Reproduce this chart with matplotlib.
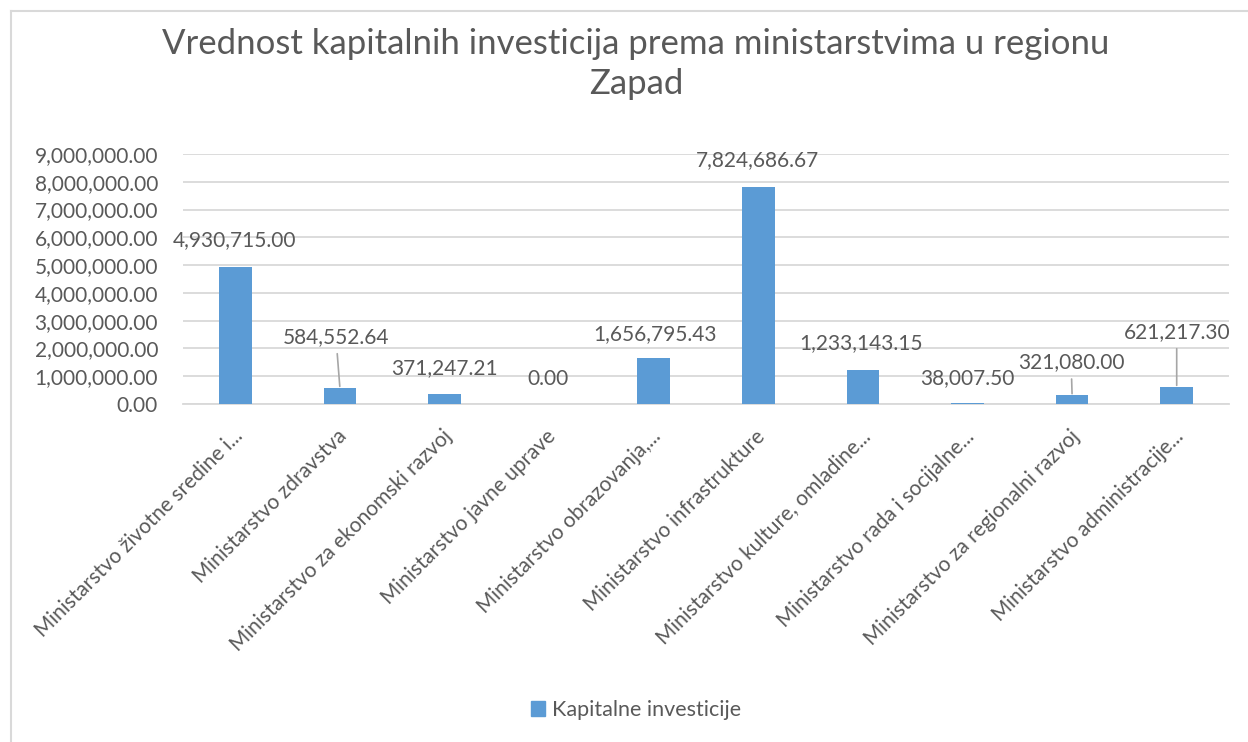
import matplotlib
matplotlib.use("Agg")
import matplotlib.pyplot as plt
from matplotlib.lines import Line2D
from matplotlib.patches import Patch
import matplotlib.transforms as mtransforms
import numpy as np

# ---- data ----
categories = [
    "Ministarstvo životne sredine i...",
    "Ministarstvo zdravstva",
    "Ministarstvo za ekonomski razvoj",
    "Ministarstvo javne uprave",
    "Ministarstvo obrazovanja,...",
    "Ministarstvo infrastrukture",
    "Ministarstvo kulture, omladine...",
    "Ministarstvo rada i socijalne...",
    "Ministarstvo za regionalni razvoj",
    "Ministarstvo administracije...",
]
values = [4930715.00, 584552.64, 371247.21, 0.00, 1656795.43,
          7824686.67, 1233143.15, 38007.50, 321080.00, 621217.30]
series_name = "Kapitalne investicije"
title_text = "Vrednost kapitalnih investicija prema ministarstvima u regionu\nZapad"
y_ticks = [0, 1000000, 2000000, 3000000, 4000000, 5000000,
           6000000, 7000000, 8000000, 9000000]

# ---- styling (label placement in pixels relative to bar top) ----
label_offsets_px = [(-1, 27), (-4, 51), (0, 26), (-1, 25), (1, 24),
                    (-1, 27), (-2, 27), (0, 25), (-1, 33), (0, 55)]
leader = [False, True, False, False, False, False, False, False, True, True]

BAR = "#5B9BD5"
TXT = "#595959"
GRID = "#D9D9D9"
FONT = "Lato"
FS = 15

plt.rcParams["font.family"] = [FONT, "DejaVu Sans"]

W, H = 1248, 742
fig = plt.figure(figsize=(W / 100, H / 100), dpi=100)
fig.patch.set_facecolor("white")

ax = fig.add_axes([183 / W, 1 - 404 / H, (1229 - 183) / W, (404 - 154) / H])

x = np.arange(len(categories))
ax.bar(x, values, width=0.31, color=BAR, zorder=3)

ax.set_xlim(-0.5, len(categories) - 0.5)
ax.set_ylim(0, 9000000)
ax.set_yticks(y_ticks)
ax.set_yticklabels([f"{v:,.2f}" for v in y_ticks], fontsize=FS, color=TXT)
ax.yaxis.grid(True, color=GRID, linewidth=1.3, zorder=0)
ax.set_axisbelow(True)
for s in ["top", "right", "left"]:
    ax.spines[s].set_visible(False)
ax.spines["bottom"].set_color(GRID)
ax.spines["bottom"].set_linewidth(1.3)
ax.tick_params(axis="both", length=0)
ax.tick_params(axis="y", pad=18)

ax.set_xticks(x)
ax.set_xticklabels(categories, rotation=45, ha="right", va="center",
                   rotation_mode="anchor", fontsize=FS, color=TXT)
ax.tick_params(axis="x", pad=21)
offset = mtransforms.ScaledTranslation(4 / 100, 0, fig.dpi_scale_trans)
for lab in ax.get_xticklabels():
    lab.set_transform(lab.get_transform() + offset)

# data labels
for i, v in enumerate(values):
    dx, dy = label_offsets_px[i]
    kw = {}
    if leader[i]:
        kw["arrowprops"] = dict(arrowstyle="-", color="#A6A6A6", lw=1.2,
                                shrinkA=3, shrinkB=1)
    ax.annotate(f"{v:,.2f}", xy=(i, v), xytext=(dx, dy),
                textcoords="offset pixels", ha="center", va="center",
                fontsize=FS, color=TXT, **kw)

# title
fig.text(636 / W, 1 - 64 / H, title_text, ha="center", va="center",
         fontsize=25, color=TXT, linespacing=1.27)

# legend
handle = Patch(facecolor=BAR, edgecolor=BAR)
fig.legend([handle], [series_name], loc="center",
           bbox_to_anchor=(636 / W, 1 - 710 / H), frameon=False,
           fontsize=15.5, labelcolor=TXT, handlelength=0.65,
           handleheight=0.65, handletextpad=0.3)

# chart border (top and left visible)
fig.add_artist(Line2D([11 / W, 11 / W], [0, 1 - 11 / H],
                      transform=fig.transFigure, color=GRID, lw=1.5))
fig.add_artist(Line2D([11 / W, 1], [1 - 11 / H, 1 - 11 / H],
                      transform=fig.transFigure, color=GRID, lw=1.5))

fig.savefig("out.png", dpi=100, facecolor="white")
